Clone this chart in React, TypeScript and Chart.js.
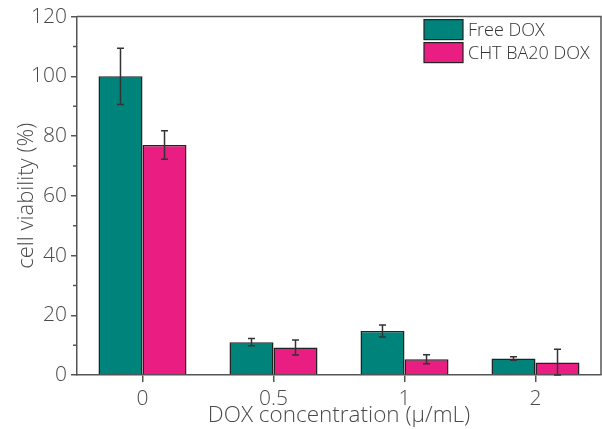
import React, { useEffect, useRef } from "react";
import { Chart, registerables } from "chart.js";

Chart.register(...registerables);

const categories = ["0", "0.5", "1", "2"];
const freeDox = [100, 11, 14.7, 5.5];
const freeDoxErr = [9.4, 1.2, 2.0, 0.6];
const chtDox = [77, 9.2, 5.3, 4.2];
const chtDoxErr = [4.8, 2.5, 1.5, 4.4];
const seriesNames = ["Free DOX", "CHT BA20 DOX"];
const yTicksMajor = [0, 20, 40, 60, 80, 100, 120];

const TEAL = "#00837b";
const PINK = "#ea1e82";
const AXIS = "#555555";
const TEXT = "#4a4a4a";
const FONT = "'Open Sans', 'DejaVu Sans', sans-serif";

const errors = [freeDoxErr, chtDoxErr];

const extrasPlugin = {
  id: "extras",
  afterDatasetsDraw(chart: any) {
    const ctx = chart.ctx;
    const y = chart.scales.y;
    const area = chart.chartArea;
    ctx.save();
    // error bars
    chart.data.datasets.forEach((ds: any, di: number) => {
      const meta = chart.getDatasetMeta(di);
      meta.data.forEach((bar: any, i: number) => {
        const v = ds.data[i];
        const e = errors[di][i];
        const x = bar.x;
        const yt = y.getPixelForValue(v + e);
        const yb = y.getPixelForValue(Math.max(0, v - e));
        ctx.strokeStyle = "#333333";
        ctx.lineWidth = 1.5;
        ctx.beginPath();
        ctx.moveTo(x, yt);
        ctx.lineTo(x, yb);
        ctx.moveTo(x - 3.5, yt);
        ctx.lineTo(x + 3.5, yt);
        ctx.moveTo(x - 3.5, yb);
        ctx.lineTo(x + 3.5, yb);
        ctx.stroke();
      });
    });
    // top/right frame
    ctx.strokeStyle = AXIS;
    ctx.lineWidth = 1.5;
    ctx.beginPath();
    ctx.moveTo(area.left, area.top);
    ctx.lineTo(area.right, area.top);
    ctx.lineTo(area.right, area.bottom);
    ctx.stroke();
    // minor y ticks
    ctx.beginPath();
    for (let t = 10; t < 120; t += 20) {
      const py = y.getPixelForValue(t);
      ctx.moveTo(area.left - 4, py);
      ctx.lineTo(area.left, py);
    }
    ctx.stroke();
    // legend
    const colors = [TEAL, PINK];
    const bx = area.right - 177;
    seriesNames.forEach((name, i) => {
      const by = area.top + 3 + i * 23;
      ctx.fillStyle = colors[i];
      ctx.fillRect(bx, by, 39, 20);
      ctx.strokeStyle = "#222222";
      ctx.lineWidth = 1.2;
      ctx.strokeRect(bx, by, 39, 20);
      ctx.fillStyle = "#333333";
      ctx.font = `300 18px ${FONT}`;
      ctx.textBaseline = "middle";
      ctx.textAlign = "left";
      ctx.fillText(name, bx + 44, by + 11);
    });
    ctx.restore();
  },
};

export default function App() {
  const ref = useRef<HTMLCanvasElement>(null);
  useEffect(() => {
    document.body.style.margin = "0";
    const chart = new Chart(ref.current!, {
      type: "bar",
      data: {
        labels: categories,
        datasets: [
          {
            label: seriesNames[0],
            data: freeDox,
            backgroundColor: TEAL,
            borderColor: "#222222",
            borderWidth: 1.5,
          },
          {
            label: seriesNames[1],
            data: chtDox,
            backgroundColor: PINK,
            borderColor: "#222222",
            borderWidth: 1.5,
          },
        ],
      },
      options: {
        animation: false,
        responsive: false,
        maintainAspectRatio: false,
        layout: { padding: { top: 15, right: 1, left: 0, bottom: 0 } },
        plugins: {
          legend: { display: false },
          tooltip: { enabled: false },
        },
        datasets: {
          bar: { categoryPercentage: 0.672, barPercentage: 1 },
        },
        scales: {
          x: {
            grid: {
              drawOnChartArea: false,
              offset: false,
              tickLength: 7,
              color: AXIS,
              lineWidth: 1.5,
            },
            border: { color: AXIS, width: 1.5 },
            ticks: {
              color: TEXT,
              padding: 4,
              font: { family: FONT, size: 21, weight: "300" },
            },
            title: {
              display: true,
              text: "DOX concentration (μ/mL)",
              color: TEXT,
              padding: { top: 0, bottom: 0 },
              font: { family: FONT, size: 22.5, weight: "300" },
            },
            afterFit: (s: any) => {
              s.height = 54;
            },
          },
          y: {
            min: 0,
            max: 120,
            afterBuildTicks: (s: any) => {
              s.ticks = yTicksMajor.map((v) => ({ value: v }));
            },
            grid: {
              drawOnChartArea: false,
              tickLength: 6,
              color: AXIS,
              lineWidth: 1.5,
            },
            border: { color: AXIS, width: 1.5 },
            ticks: {
              color: TEXT,
              padding: 4,
              font: { family: FONT, size: 21, weight: "300" },
            },
            title: {
              display: true,
              text: "cell viability (%)",
              color: TEXT,
              padding: { top: 14, bottom: 0 },
              font: { family: FONT, size: 22, weight: "300" },
            },
            afterFit: (s: any) => {
              s.width = 77;
            },
          },
        },
      },
      plugins: [extrasPlugin],
    });
    return () => chart.destroy();
  }, []);
  return (
    <div style={{ width: 602, height: 429, background: "#fff" }}>
      <canvas ref={ref} width={602} height={429} />
    </div>
  );
}
